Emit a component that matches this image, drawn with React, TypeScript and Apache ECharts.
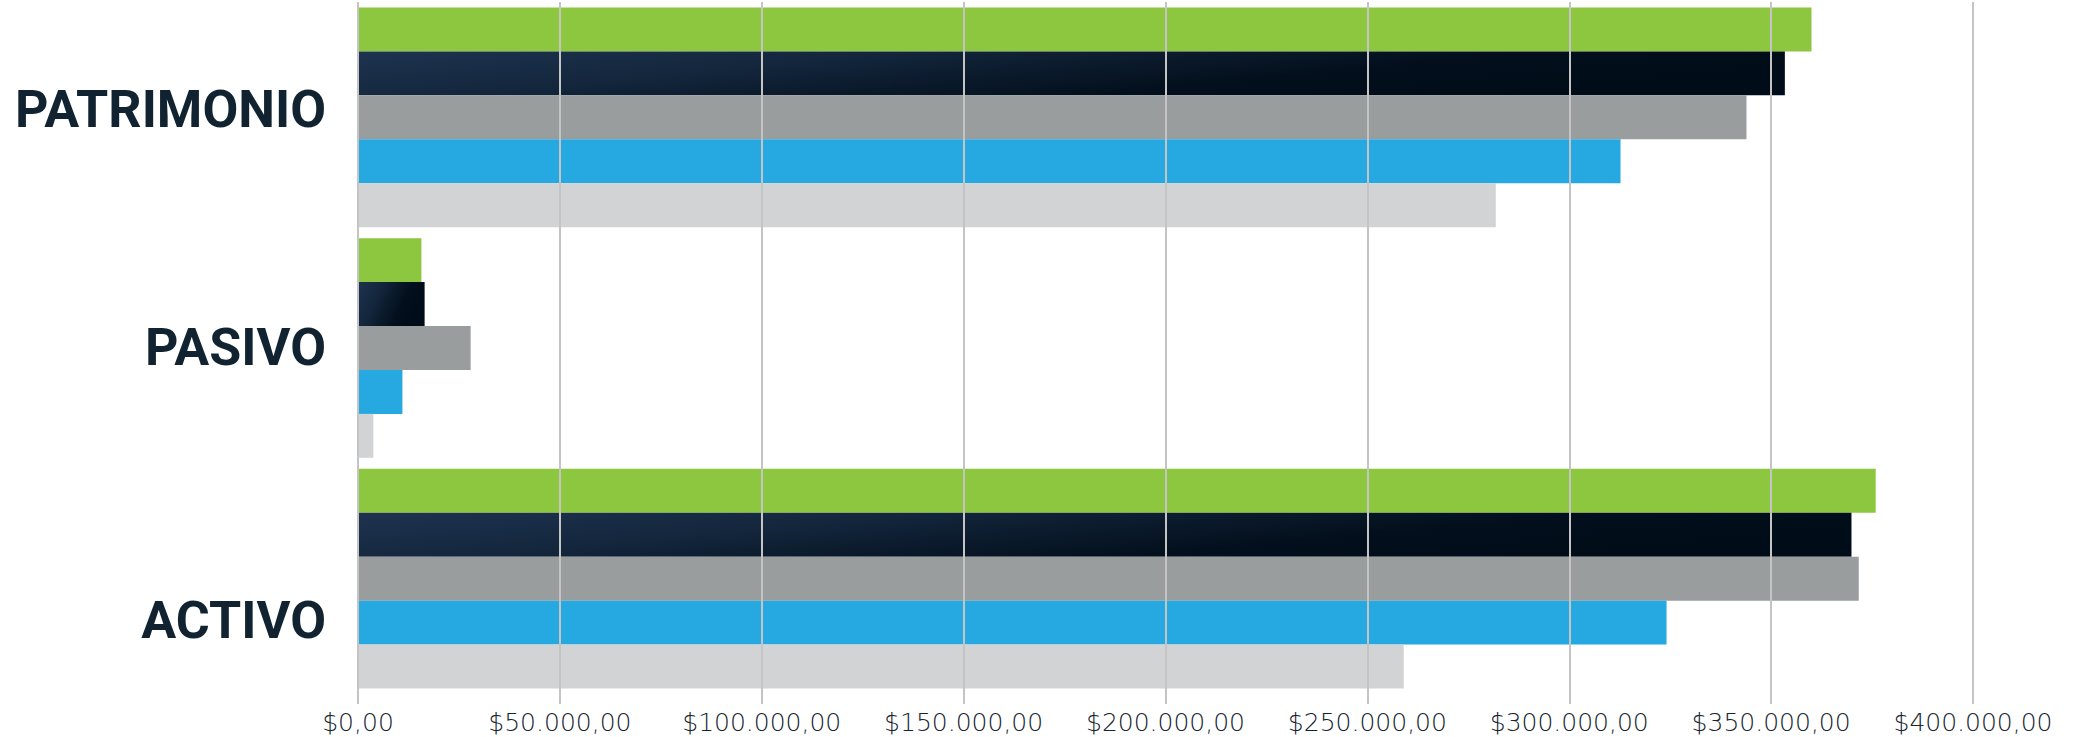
import React, { useEffect, useRef } from "react";
import * as echarts from "echarts";

const categories = ["ACTIVO", "PASIVO", "PATRIMONIO"];
const seriesNames = ["Serie 1", "Serie 2", "Serie 3", "Serie 4", "Serie 5"];
const greenValues = [375900, 15700, 360000];
const navyValues = [369900, 16500, 353400];
const grayValues = [371700, 27900, 343900];
const blueValues = [324100, 11000, 312700];
const lightValues = [259000, 3800, 281800];
const xTicks = [0, 50000, 100000, 150000, 200000, 250000, 300000, 350000, 400000];

function fmt(v: number): string {
  const s = Math.round(v).toString().replace(/\B(?=(\d{3})+(?!\d))/g, ".");
  return "$" + s + ",00";
}

const richKey: Record<string, string> = { ACTIVO: "a", PASIVO: "b", PATRIMONIO: "c" };

export default function App() {
  const ref = useRef<HTMLDivElement>(null);
  useEffect(() => {
    document.body.style.margin = "0";
    const chart = echarts.init(ref.current!, null, { renderer: "svg" });
    const navyGrad = new echarts.graphic.LinearGradient(0, 0, 1, 0.3, [
      { offset: 0, color: "#1e3350" },
      { offset: 0.35, color: "#13263c" },
      { offset: 0.75, color: "#030f1c" },
      { offset: 1, color: "#000c18" },
    ]);
    const lbl = { fontFamily: "Roboto", fontWeight: 700, fontSize: 52, color: "#112330" };
    const mk = (name: string, data: number[], color: any) => ({
      name,
      type: "bar",
      data,
      barGap: "0%",
      barCategoryGap: "4.8%",
      itemStyle: { color },
    });
    chart.setOption({
      animation: false,
      grid: { left: 358, right: 107, top: 2, bottom: 43, containLabel: false },
      xAxis: {
        type: "value",
        min: xTicks[0],
        max: xTicks[xTicks.length - 1],
        interval: xTicks[1] - xTicks[0],
        z: 3,
        axisLine: { show: false },
        axisTick: { show: true, length: 10, lineStyle: { color: "#c4c4c4", width: 2 } },
        splitLine: { show: true, lineStyle: { color: "#c4c4c4", width: 2 } },
        axisLabel: {
          formatter: (v: number) => fmt(v),
          fontFamily: "DejaVu Sans",
          fontWeight: 300,
          fontSize: 25,
          color: "#16242f",
          margin: 16,
        },
      },
      yAxis: {
        type: "category",
        data: categories,
        axisLine: { show: false },
        axisTick: { show: false },
        axisLabel: {
          margin: 32,
          formatter: (v: string) => "{" + richKey[v] + "|" + v + "}",
          rich: {
            a: { ...lbl, padding: [84, 0, 0, 0] },
            b: { ...lbl, padding: [0, 0, 2, 0] },
            c: { ...lbl, padding: [0, 0, 15, 0] },
          },
        },
      },
      series: [
        mk(seriesNames[0], greenValues, "#8dc63f"),
        mk(seriesNames[1], navyValues, navyGrad),
        mk(seriesNames[2], grayValues, "#999d9e"),
        mk(seriesNames[3], blueValues, "#25a9e0"),
        mk(seriesNames[4], lightValues, "#d1d3d4"),
      ],
    });
    return () => chart.dispose();
  }, []);
  return <div ref={ref} style={{ width: 2080, height: 737 }} />;
}
